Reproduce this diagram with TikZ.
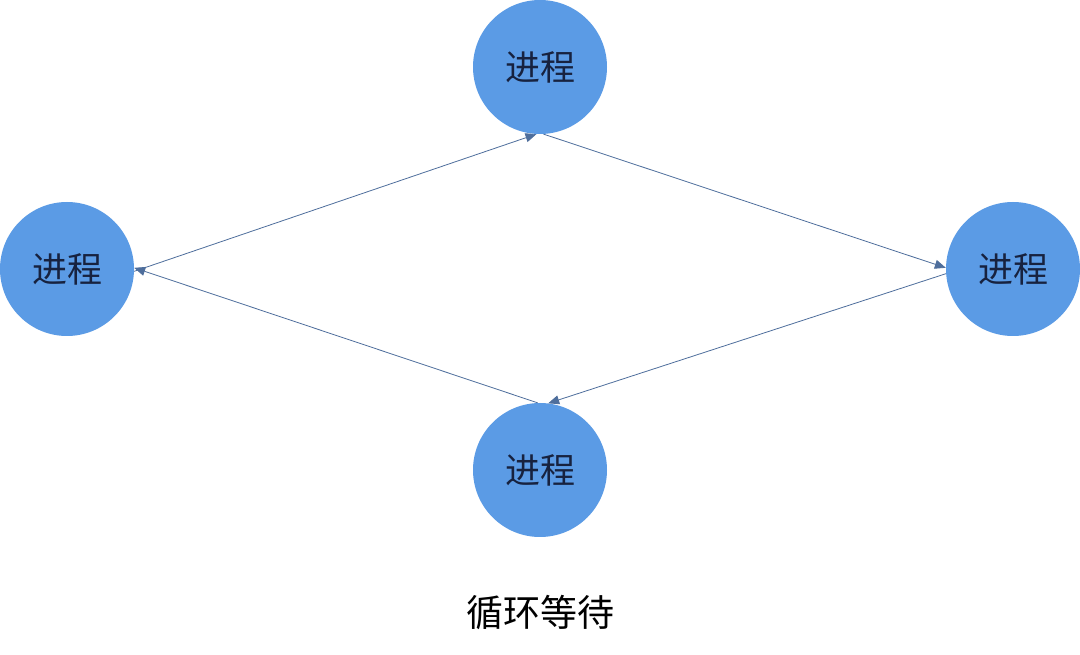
\documentclass[tikz,border=0pt]{standalone}
\usepackage{fontspec}
\newfontfamily\cjk{Noto Sans CJK SC}
\usetikzlibrary{arrows.meta}
\definecolor{procfill}{HTML}{5B9BE5}
\definecolor{proctext}{HTML}{17223F}
\definecolor{linkcol}{HTML}{4E6E9C}
\tikzset{
  proc/.style={circle, fill=procfill, draw=none, minimum size=134pt, inner sep=0pt,
    text=proctext, font=\cjk\fontsize{35}{40}\selectfont},
  link/.style={draw=linkcol, line width=0.8pt, -{Triangle[length=11pt,width=9pt]}}
}
\begin{document}
\begin{tikzpicture}[x=1pt,y=1pt]
\useasboundingbox (0,0) rectangle (1080,654);
\fill[white] (0,0) rectangle (1080,654);
\node[proc] (t) at (540,587) {进程};
\node[proc] (l) at (67,385) {进程};
\node[proc] (r) at (1013,385) {进程};
\node[proc] (b) at (540,184) {进程};
\node[font=\cjk\fontsize{37}{42}\selectfont] (cap) at (540,42) {循环等待};
\draw[link] (l.-2) -- (t.-93);
\draw[link] (t.-87) -- (r.179);
\draw[link] (r.-176) -- (b.83);
\draw[link] (b.92) -- (l.1);
\end{tikzpicture}
\end{document}
